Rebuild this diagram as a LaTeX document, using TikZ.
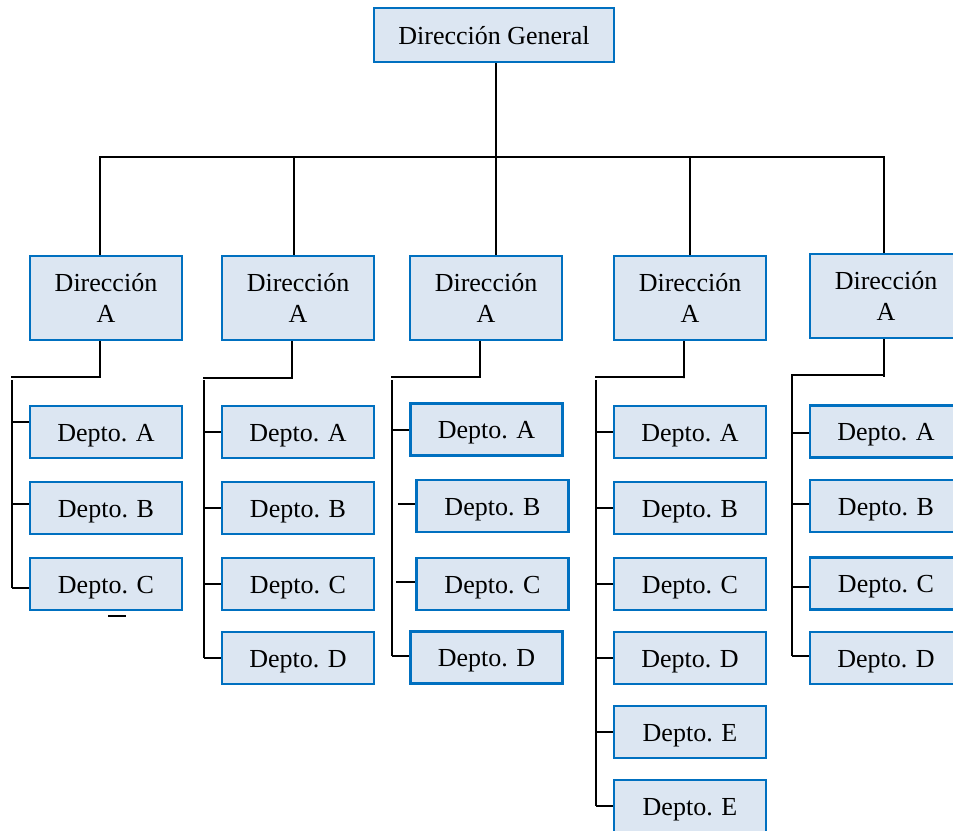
\documentclass[tikz,border=0pt]{standalone}
\usepackage{fontspec}
\setmainfont{Liberation Serif}
\definecolor{boxfill}{HTML}{DCE6F2}
\definecolor{boxline}{HTML}{0070C0}
\begin{document}
\begin{tikzpicture}[x=1pt,y=-1pt,
  unit/.style={draw=boxline, fill=boxfill, line width=2.7pt, inner sep=0pt,
    font=\fontsize{26}{30.5}\selectfont, align=center},
  oneline/.style={text height=18pt, text depth=0pt},
  dirbox/.style={unit, minimum width=152, minimum height=84},
  deptbox/.style={unit, oneline, minimum width=152, minimum height=52},
  link/.style={draw=black, line width=2pt}]
\useasboundingbox (0,0) rectangle (953,830);
\clip (0,0) rectangle (953,830);

% head of the chart
\node[unit, oneline, minimum width=240, minimum height=54] (top) at (494,35) {Dirección General};

% directions
\node[dirbox] (d1) at (106,298) {Dirección\\A};
\node[dirbox] (d2) at (298,298) {Dirección\\A};
\node[dirbox] (d3) at (486,298) {Dirección\\A};
\node[dirbox] (d4) at (690,298) {Dirección\\A};
\node[dirbox] (d5) at (886,296) {Dirección\\A};

% departments, column 1
\node[deptbox] (a1) at (106,432) {Depto. A};
\node[deptbox] (b1) at (106,508) {Depto. B};
\node[deptbox] (c1) at (106,584) {Depto. C};
% column 2
\node[deptbox] (a2) at (298,432) {Depto. A};
\node[deptbox] (b2) at (298,508) {Depto. B};
\node[deptbox] (c2) at (298,584) {Depto. C};
\node[deptbox] (e2) at (298,658) {Depto. D};
% column 3
\node[deptbox] (a3) at (486.5,429.5) {Depto. A};
\node[deptbox] (b3) at (492.5,506) {Depto. B};
\node[deptbox] (c3) at (492.5,584) {Depto. C};
\node[deptbox] (e3) at (486.5,657.5) {Depto. D};
% column 4
\node[deptbox] (a4) at (690,432) {Depto. A};
\node[deptbox] (b4) at (690,508) {Depto. B};
\node[deptbox] (c4) at (690,584) {Depto. C};
\node[deptbox] (e4) at (690,658) {Depto. D};
\node[deptbox] (f4) at (690,732) {Depto. E};
\node[deptbox] (g4) at (690,806) {Depto. E};
% column 5
\node[deptbox] (a5) at (886,431.5) {Depto. A};
\node[deptbox] (b5) at (886,506) {Depto. B};
\node[deptbox] (c5) at (886,583.5) {Depto. C};
\node[deptbox] (e5) at (886,658) {Depto. D};

% top bar and drops
\coordinate (j1) at (100,157);
\coordinate (j2) at (294,157);
\coordinate (j3) at (496,157);
\coordinate (j4) at (690,157);
\coordinate (j5) at (884,157);
\draw[link] (j3 |- top.south) -- (j3);
\draw[link] ([xshift=-1pt]j1) -- ([xshift=1pt]j5);
\foreach \j/\d in {j1/d1, j2/d2, j3/d3, j4/d4, j5/d5}
  \draw[link] (\j) -- (\j |- \d.north);

% column 1 branch
\coordinate (k1) at (100,377);
\coordinate (m1) at (12,377);
\coordinate (s1) at (12,380);
\coordinate (t1) at (12,588);
\draw[link] (k1 |- d1.south) -- (k1) -- ([xshift=-1pt]m1);
\draw[link] (s1) -- (t1);
\draw[link] (s1 |- 0,422) -- ([yshift=10pt]a1.west);
\draw[link] (s1 |- 0,504) -- ([yshift=4pt]b1.west);
\draw[link] (t1) -- ([yshift=-4pt]c1.west);
\coordinate (u1) at (108,616);
\coordinate (v1) at (126,616);
\draw[link] (u1) -- (v1);

% column 2 branch
\coordinate (k2) at (292,378);
\coordinate (m2) at (204,378);
\coordinate (s2) at (204,380);
\coordinate (t2) at (204,658);
\draw[link] (k2 |- d2.south) -- (k2) -- ([xshift=-1pt]m2);
\draw[link] (s2) -- (t2);
\foreach \n in {a2, b2, c2}
  \draw[link] (s2 |- \n.west) -- (\n.west);
\draw[link] (t2) -- (e2.west);

% column 3 branch
\coordinate (k3) at (480,378);
\coordinate (m3) at (392,377);
\coordinate (s3) at (392,380);
\coordinate (t3) at (392,656);
\draw[link] (k3 |- d3.south) -- (k3 |- m3) -- ([xshift=-1pt]m3);
\draw[link] (s3) -- (t3);
\draw[link] (s3 |- a3.west) -- (a3.west);
\coordinate (p3) at (398,504);
\coordinate (q3) at (396,582);
\draw[link] (p3) -- (p3 -| b3.west);
\draw[link] (q3) -- (q3 -| c3.west);
\draw[link] (t3) -- (t3 -| e3.west);

% column 4 branch
\coordinate (k4) at (684,378);
\coordinate (m4) at (596,377);
\coordinate (s4) at (596,380);
\coordinate (t4) at (596,806);
\draw[link] (k4 |- d4.south) -- (k4) -- (k4 |- m4) -- ([xshift=-1pt]m4);
\draw[link] (s4) -- (t4);
\foreach \n in {a4, b4, c4, e4, f4}
  \draw[link] (s4 |- \n.west) -- (\n.west);
\draw[link] (t4) -- (g4.west);

% column 5 branch
\coordinate (k5) at (884,377);
\coordinate (m5) at (792,375);
\coordinate (s5) at (792,375);
\coordinate (t5) at (792,656);
\draw[link] (k5 |- d5.south) -- (k5) (k5 |- m5) -- ([xshift=-1pt]m5);
\draw[link] (s5) -- (t5);
\draw[link] (s5 |- 0,433) -- (a5.west |- 0,433);
\draw[link] (s5 |- 0,504) -- (b5.west |- 0,504);
\draw[link] (s5 |- 0,587) -- (c5.west |- 0,587);
\draw[link] (t5) -- (t5 -| e5.west);
\end{tikzpicture}
\end{document}
